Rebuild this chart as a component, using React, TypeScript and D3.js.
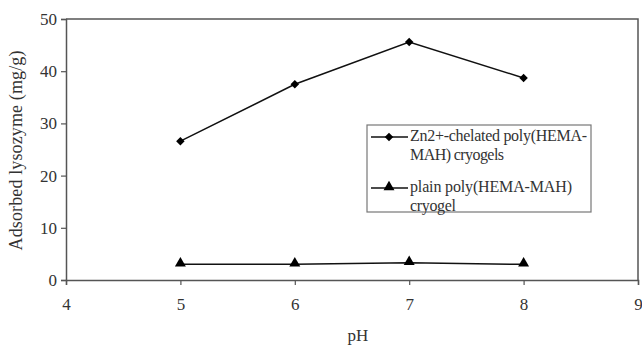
import * as d3 from 'd3'
import { useEffect, useRef } from 'react'

const phValues = [5, 6, 7, 8]
const znChelated = [26.6, 37.5, 45.6, 38.7]
const plainPoly = [3.0, 3.0, 3.3, 3.0]
const xTicks = [4, 5, 6, 7, 8, 9]
const yTicks = [0, 10, 20, 30, 40, 50]
const seriesNames = [
    ['Zn2+-chelated poly(HEMA-', 'MAH) cryogels'],
    ['plain poly(HEMA-MAH)', 'cryogel'],
]
const legendWidths = [[177, 94], [162, 46]]

export default function App() {
    const svgRef = useRef<SVGSVGElement>(null)

    useEffect(() => {
        const w = 642
        const h = 347
        const left = 66, right = 638, top = 19, bottom = 280
        const font = "'Liberation Serif', 'Times New Roman', serif"
        const axisColor = '#555'
        const textColor = '#333'

        const svg = d3.select(svgRef.current)
            .attr('width', w)
            .attr('height', h)
            .style('background', '#fff')
            .style('font-family', font)
        svg.selectAll('*').remove()

        const xScale = d3.scaleLinear().domain([4, 9]).range([left, right])
        const yScale = d3.scaleLinear().domain([0, 50]).range([bottom, top])

        // plot frame (top & right)
        svg.append('path')
           .attr('d', `M${left},${top}H${right}V${bottom}`)
           .attr('fill', 'none')
           .attr('stroke', axisColor)
           .attr('stroke-width', 1.5)

        const xAxis = d3.axisBottom(xScale).tickValues(xTicks).tickSize(5).tickFormat(d3.format('d'))
        const gx = svg.append('g')
           .attr('transform', `translate(0, ${bottom})`)
           .call(xAxis)
           .attr('font-family', null)
        gx.select('.domain').attr('stroke', axisColor).attr('stroke-width', 1.5)
        gx.selectAll('.tick line').attr('stroke', axisColor).attr('stroke-width', 1.2)
        gx.selectAll('.tick text')
          .style('font-family', font).attr('font-size', 17).attr('fill', textColor).attr('dy', '1.3em')

        const yAxis = d3.axisLeft(yScale).tickValues(yTicks).tickSize(5)
        const gy = svg.append('g')
           .attr('transform', `translate(${left}, 0)`)
           .call(yAxis)
           .attr('font-family', null)
        gy.select('.domain').attr('stroke', axisColor).attr('stroke-width', 1.5)
        gy.selectAll('.tick line').attr('stroke', axisColor).attr('stroke-width', 1.2)
        gy.selectAll('.tick text')
          .style('font-family', font).attr('font-size', 17).attr('fill', textColor).attr('x', -9)

        const line = d3.line<number>()
            .x((d, i) => xScale(phValues[i]))
            .y(d => yScale(d))

        const diamond = d3.symbol().type(d3.symbolSquare).size(36)
        const triangle = d3.symbol().type(d3.symbolTriangle).size(52)

        svg.append('path')
           .datum(znChelated)
           .attr('fill', 'none')
           .attr('stroke', '#111')
           .attr('stroke-width', 1.5)
           .attr('d', line)
        svg.selectAll('.zn-pt')
           .data(znChelated)
           .join('path')
           .attr('class', 'zn-pt')
           .attr('transform', (d, i) => `translate(${xScale(phValues[i])}, ${yScale(d)}) rotate(45)`)
           .attr('d', diamond)
           .attr('fill', '#000')

        svg.append('path')
           .datum(plainPoly)
           .attr('fill', 'none')
           .attr('stroke', '#111')
           .attr('stroke-width', 1.5)
           .attr('d', line)
        svg.selectAll('.pl-pt')
           .data(plainPoly)
           .join('path')
           .attr('class', 'pl-pt')
           .attr('transform', (d, i) => `translate(${xScale(phValues[i])}, ${yScale(d) - 1})`)
           .attr('d', triangle)
           .attr('fill', '#000')

        // legend
        const lg = svg.append('g')
        lg.append('rect')
          .attr('x', 367).attr('y', 125).attr('width', 224).attr('height', 87)
          .attr('fill', '#fff').attr('stroke', '#777').attr('stroke-width', 1.2)
        const symbols = [diamond, triangle]
        seriesNames.forEach((lines, k) => {
            const y0 = 137 + k * 51
            lg.append('line')
              .attr('x1', 371).attr('x2', 408).attr('y1', y0).attr('y2', y0)
              .attr('stroke', '#111').attr('stroke-width', 1.5)
            lg.append('path')
              .attr('transform', k === 1 ? `translate(389, ${y0 - 1})` : `translate(389, ${y0}) rotate(45)`)
              .attr('d', symbols[k])
              .attr('fill', '#000')
            lines.forEach((t, j) => {
                lg.append('text')
                  .attr('x', 410).attr('y', y0 + 4 + j * 19)
                  .attr('font-size', 16).attr('fill', textColor)
                  .attr('textLength', legendWidths[k][j])
                  .attr('lengthAdjust', 'spacing')
                  .text(t)
            })
        })

        svg.append('text')
           .attr('text-anchor', 'middle')
           .attr('x', xScale(6.5) + 6)
           .attr('y', 341)
           .attr('font-size', 17).attr('fill', textColor)
           .text('pH')

        svg.append('text')
           .attr('text-anchor', 'middle')
           .attr('transform', `translate(22, ${yScale(25) + 1}) rotate(-90)`)
           .attr('font-size', 18).attr('fill', textColor)
           .attr('textLength', 200)
           .attr('lengthAdjust', 'spacing')
           .text('Adsorbed lysozyme (mg/g)')
    }, [])

    return (
        <div style={{ position: 'absolute', left: 0, top: 0 }}>
            <svg ref={svgRef} style={{ display: 'block' }} />
        </div>
    )
}
